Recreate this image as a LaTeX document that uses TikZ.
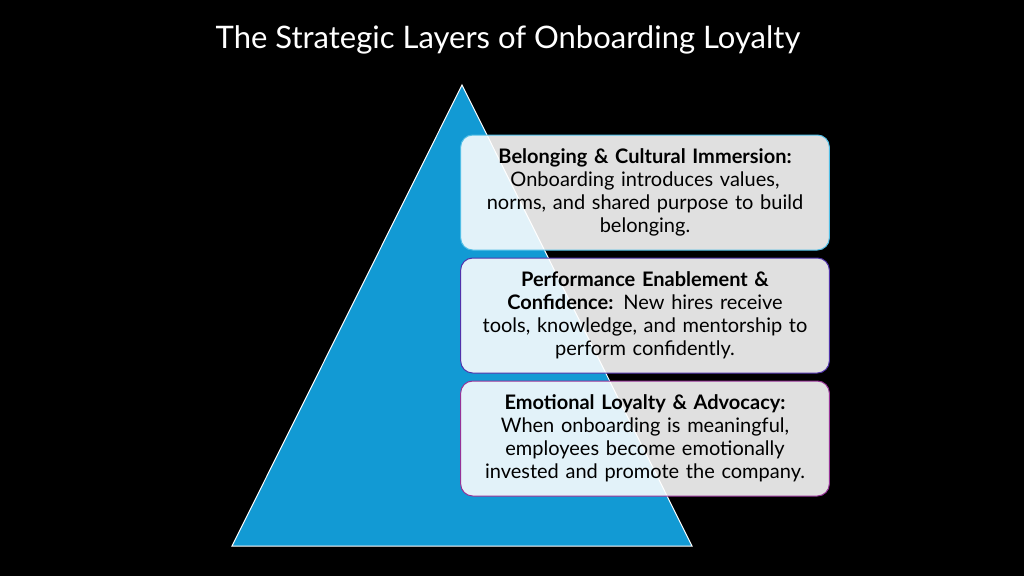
\documentclass[tikz,border=0pt]{standalone}
\usepackage{fontspec}
\setmainfont{Lato}
\usepackage{xcolor}
\definecolor{pyramidcolour}{RGB}{18,154,212}
\definecolor{layeronecolour}{RGB}{80,190,230}
\definecolor{layertwocolour}{RGB}{80,50,170}
\definecolor{layerthreecolour}{RGB}{150,50,150}
\tikzset{layerbox/.style={rectangle, rounded corners=12pt, minimum width=366pt, minimum height=115pt, text width=362pt, align=center, line width=1pt, fill=white, fill opacity=0.88, text opacity=1, font=\fontsize{20}{23}\selectfont, text=black}}
\begin{document}
\begin{tikzpicture}[x=1pt,y=-1pt]
	\fill[black] (0,0) rectangle (1024,576);
	\useasboundingbox (0,0) rectangle (1024,576);
	\node (title) [text=white, font=\fontsize{31}{34}\selectfont] at (508,40) {The Strategic Layers of Onboarding Loyalty};
	\draw[white, line width=1pt, fill=pyramidcolour] (462,85) -- (692,546) -- (232,546) -- cycle;
	\node (belonging) [layerbox, draw=layeronecolour] at (645,192.5) {\textbf{Belonging \& Cultural Immersion:}\\ Onboarding introduces values,\\ norms, and shared purpose to build\\ belonging.};
	\node (performance) [layerbox, draw=layertwocolour] at (645,315.5) {\textbf{Performance Enablement \&}\\ \textbf{Confidence:} New hires receive\\ tools, knowledge, and mentorship to\\ perform confidently.};
	\node (emotional) [layerbox, draw=layerthreecolour] at (645,438.5) {\textbf{Emotional Loyalty \& Advocacy:}\\ When onboarding is meaningful,\\ employees become emotionally\\ invested and promote the company.};
\end{tikzpicture}
\end{document}
